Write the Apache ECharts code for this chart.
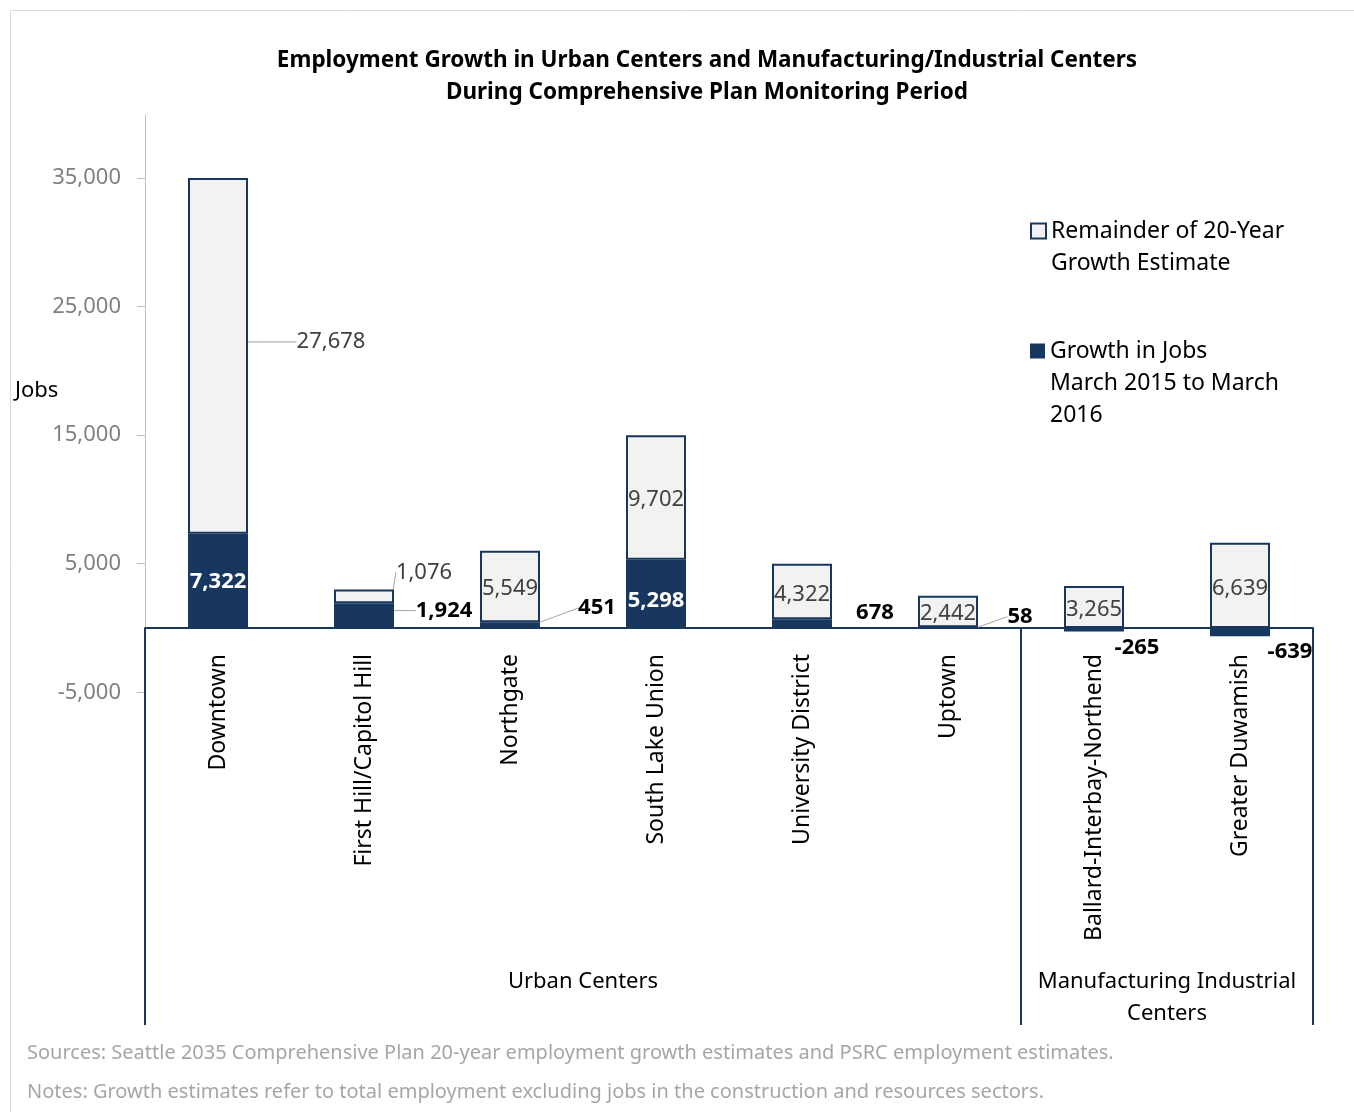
<!DOCTYPE html>
<html>
<head>
<meta charset="utf-8">
<script src="https://cdn.jsdelivr.net/npm/echarts@6/dist/echarts.min.js"></script>
<style>
  html, body { margin: 0; padding: 0; background: #fff; }
  #chart { width: 1354px; height: 1112px; }
</style>
</head>
<body>
<div id="chart"></div>
<script>
const categories = ['Downtown', 'First Hill/Capitol Hill', 'Northgate', 'South Lake Union', 'University District', 'Uptown', 'Ballard-Interbay-Northend', 'Greater Duwamish'];
const growthJobs = [7322, 1924, 451, 5298, 678, 58, -265, -639];
const remainderEstimate = [27678, 1076, 5549, 9702, 4322, 2442, 3265, 6639];
const yTickValues = [-5000, 5000, 15000, 25000, 35000];
const groupLabels = ['Urban Centers', 'Manufacturing Industrial\nCenters'];
const groupCenters = [3, 7];
const groupBoundaries = [0, 6, 8];
const titleLines = ['Employment Growth in Urban Centers and Manufacturing/Industrial Centers', 'During Comprehensive Plan Monitoring Period'];
const footnotes = ['Sources: Seattle 2035 Comprehensive Plan 20-year employment growth estimates and PSRC employment estimates.', 'Notes: Growth estimates refer to total employment excluding jobs in the construction and resources sectors.'];
const legendRemainder = 'Remainder of 20-Year\nGrowth Estimate';
const legendGrowth = 'Growth in Jobs\nMarch 2015 to March\n2016';

const NAVY = '#17375E';
const FONT = 'Noto Sans';
const fmt = v => v.toLocaleString('en-US');

// label placement (style config, separate from data)
const growthLabelCfg = [
  { inside: true, dx: 0, dy: 1, line: false },
  { inside: false, dx: 80, dy: -5, line: true },
  { inside: false, dx: 87, dy: -17, line: true },
  { inside: true, dx: 0, dy: 7, line: false },
  { inside: false, dx: 73, dy: -11, line: false },
  { inside: false, dx: 72, dy: -11, line: true },
  { inside: false, dx: 43, dy: 18, line: false },
  { inside: false, dx: 50, dy: 20, line: false }
];
const remLabelCfg = [
  { dx: 113, dy: -14, line: true },
  { dx: 60, dy: -24, line: true },
  { dx: 0, dy: 2, line: false },
  { dx: 0, dy: 2, line: false },
  { dx: 0, dy: 3, line: false },
  { dx: 0, dy: 2, line: false },
  { dx: 0, dy: 3, line: false },
  { dx: 0, dy: 3, line: false }
];

const growthData = growthJobs.map((v, i) => ({
  value: v,
  label: { color: growthLabelCfg[i].inside ? '#FFFFFF' : '#000000' },
  labelLine: { show: growthLabelCfg[i].line }
}));
const remData = remainderEstimate.map((v, i) => ({
  value: v,
  labelLine: { show: remLabelCfg[i].line }
}));

const chart = echarts.init(document.getElementById('chart'), null, { renderer: 'canvas' });

const legendText = { fontFamily: FONT, fontSize: 23, lineHeight: 32, color: '#000' };

const option = {
  backgroundColor: '#FFFFFF',
  animation: false,
  textStyle: { fontFamily: FONT },
  title: {
    text: titleLines.join('\n'),
    left: 702,
    top: 40,
    textAlign: 'center',
    textStyle: { fontFamily: FONT, fontWeight: 'bold', fontSize: 22.5, lineHeight: 32, color: '#000' }
  },
  legend: [
    {
      left: 1030, top: 183, padding: 0,
      orient: 'vertical',
      icon: 'rect',
      itemWidth: 15, itemHeight: 15,
      data: [legendRemainder],
      formatter: n => '\n' + n,
      textStyle: legendText,
      selectedMode: false
    },
    {
      left: 1030, top: 271, padding: 0,
      orient: 'vertical',
      icon: 'rect',
      itemWidth: 15, itemHeight: 15,
      data: [legendGrowth],
      formatter: n => '\n\n' + n,
      textStyle: legendText,
      selectedMode: false
    }
  ],
  grid: [
    { left: 145, right: 41, top: 115, bottom: 87, containLabel: false, outerBoundsMode: 'none' },
    { left: 145, right: 41, top: 627, bottom: 484, containLabel: false, outerBoundsMode: 'none' }
  ],
  xAxis: [
    {
      type: 'category',
      gridIndex: 0,
      data: categories,
      axisLine: { onZero: true, lineStyle: { color: NAVY, width: 2 } },
      axisTick: { show: false },
      axisLabel: { show: false },
      splitLine: { show: false }
    },
    {
      type: 'value',
      gridIndex: 0,
      min: 0, max: 8,
      position: 'bottom',
      axisLine: { show: false, onZero: false },
      axisTick: { show: true, customValues: groupBoundaries, inside: true, length: 397, lineStyle: { color: NAVY, width: 2 } },
      axisLabel: {
        show: true, inside: true, customValues: groupCenters, margin: -5,
        formatter: v => { const k = groupCenters.indexOf(v); return k === 0 ? groupLabels[0] + '\n ' : (k >= 0 ? groupLabels[k] : ''); },
        fontFamily: FONT, fontSize: 22, lineHeight: 32, color: '#000', align: 'center'
      },
      splitLine: { show: false }
    },
    {
      type: 'category',
      gridIndex: 1,
      data: categories,
      position: 'bottom',
      axisLine: { show: false, onZero: false },
      axisTick: { show: false },
      axisLabel: { rotate: 90, margin: 26, fontFamily: FONT, fontSize: 23, color: '#000', interval: 0 },
      splitLine: { show: false }
    }
  ],
  yAxis: [
    {
      type: 'value',
      gridIndex: 0,
      min: -30880, max: 39900,
      axisLine: { show: true, lineStyle: { color: '#BFBFBF', width: 1 } },
      axisTick: { show: true, customValues: yTickValues, length: 8, lineStyle: { color: '#BFBFBF' } },
      axisLabel: { customValues: yTickValues, formatter: v => fmt(v), margin: 24, fontFamily: FONT, fontSize: 22, color: '#808080' },
      splitLine: { show: false }
    },
    {
      type: 'value',
      gridIndex: 1,
      show: false
    }
  ],
  series: [
    {
      name: legendGrowth,
      type: 'bar',
      stack: 'total',
      xAxisIndex: 0, yAxisIndex: 0,
      barWidth: 60,
      data: growthData,
      itemStyle: { color: NAVY },
      label: { show: true, position: 'inside', formatter: p => fmt(p.value), fontFamily: FONT, fontSize: 22, fontWeight: 'bold' },
      labelLine: { show: true, lineStyle: { color: '#A6A6A6', width: 1 } },
      labelLayout: p => ({ dx: growthLabelCfg[p.dataIndex].dx, dy: growthLabelCfg[p.dataIndex].dy }),
      z: 3
    },
    {
      name: legendRemainder,
      type: 'bar',
      stack: 'total',
      xAxisIndex: 0, yAxisIndex: 0,
      barWidth: 60,
      data: remData,
      itemStyle: { color: '#F2F2F2', borderColor: NAVY, borderWidth: 2 },
      label: { show: true, position: 'inside', formatter: p => fmt(p.value), fontFamily: FONT, fontSize: 22, color: '#404040' },
      labelLine: { show: true, lineStyle: { color: '#A6A6A6', width: 1 } },
      labelLayout: p => ({ dx: remLabelCfg[p.dataIndex].dx, dy: remLabelCfg[p.dataIndex].dy }),
      z: 2
    }
  ],
  graphic: [
    { type: 'rect', left: 8, top: 8, shape: { width: 1344, height: 1102 }, style: { fill: 'none', stroke: '#D9D9D9', lineWidth: 1 }, silent: true },
    { type: 'text', left: 15, top: 380, style: { text: 'Jobs', font: '22px "Noto Sans"', fill: '#000' } },
    { type: 'text', left: 27, top: 1043, style: { text: footnotes[0], font: '20px "Noto Sans"', fill: '#A6A6A6' } },
    { type: 'text', left: 27, top: 1082, style: { text: footnotes[1], font: '20px "Noto Sans"', fill: '#A6A6A6' } }
  ]
};
chart.setOption(option);
</script>
</body>
</html>
